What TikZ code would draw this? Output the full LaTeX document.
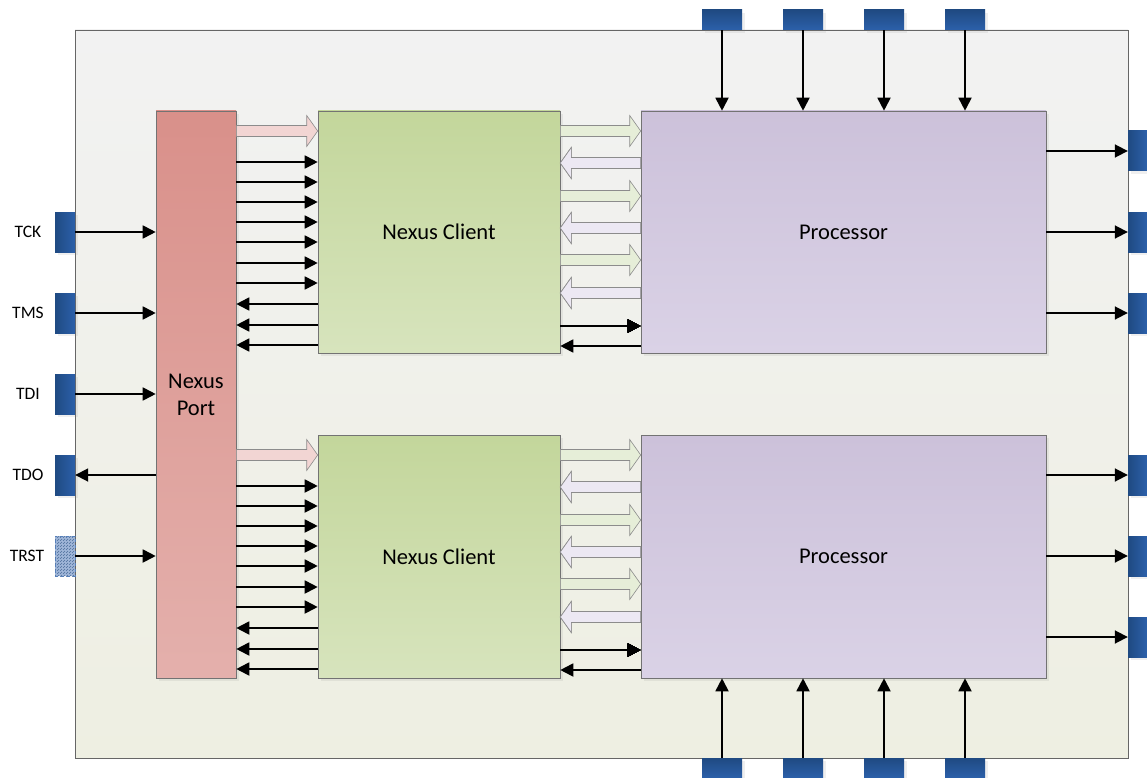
\documentclass[tikz,border=0pt]{standalone}
\usepackage{fontspec}
\setmainfont{Carlito}
\usetikzlibrary{arrows.meta,patterns,shadows,calc}
\definecolor{chipTop}{HTML}{F2F2F2}
\definecolor{chipBot}{HTML}{EEEFE2}
\definecolor{portTop}{HTML}{D9908A}
\definecolor{portBot}{HTML}{E4B0AC}
\definecolor{clientTop}{HTML}{C3D69B}
\definecolor{clientBot}{HTML}{D7E4BD}
\definecolor{procTop}{HTML}{CCC1DA}
\definecolor{procBot}{HTML}{DAD2E6}
\definecolor{pinDark}{HTML}{1F4A82}
\definecolor{pinLight}{HTML}{2C60AA}
\definecolor{fatPink}{HTML}{F2D5D3}
\definecolor{fatGreen}{HTML}{E6EED8}
\definecolor{fatPurple}{HTML}{ECE8F3}
\tikzset{
  chip/.style={draw=black!60,line width=.6pt,top color=chipTop,bottom color=chipBot,inner sep=0pt},
  block/.style={draw=black!55,line width=.6pt,inner sep=0pt,align=center,
    font=\fontsize{22.5}{27}\selectfont,
    drop shadow={shadow xshift=3pt,shadow yshift=-3pt,opacity=.12}},
  pinh/.style={inner sep=0pt,minimum width=20,minimum height=40,left color=pinDark,right color=pinLight,
    drop shadow={shadow xshift=3pt,shadow yshift=-3pt,opacity=.12}},
  pinv/.style={inner sep=0pt,minimum width=40,minimum height=20,top color=pinDark,bottom color=pinLight,
    drop shadow={shadow xshift=3pt,shadow yshift=-3pt,opacity=.12}},
  sig/.style={line width=1.8pt,-{Triangle[length=13pt,width=13pt]}},
  fat/.style={draw=black!45,line width=.6pt},
  lbl/.style={font=\fontsize{17.5}{20}\selectfont,inner sep=1pt}
}
\newcommand\fatarrow[3]{%
  \path[fat,#3] let \p1=(#1),\p2=(#2),\n1={sign(\x2-\x1)} in
    (\x1,\y1+5.5pt) -- ({\x2-\n1*11pt},\y1+5.5pt) -- ({\x2-\n1*11pt},\y1+15.5pt) -- (\x2,\y1)
    -- ({\x2-\n1*11pt},\y1-15.5pt) -- ({\x2-\n1*11pt},\y1-5.5pt) -- (\x1,\y1-5.5pt) -- cycle;}
\begin{document}
\begin{tikzpicture}[x=1pt,y=-1pt]
\path[use as bounding box,fill=white] (0,0) rectangle (1147,778);
\node[chip,minimum width=1053,minimum height=728] (chip) at (601.5,394) {};
\node[block,top color=portTop,bottom color=portBot,minimum width=80,minimum height=567] (port) at (196,394.5) {Nexus\\Port};
\node[block,top color=clientTop,bottom color=clientBot,minimum width=242,minimum height=242] (client1) at (439,232) {Nexus Client};
\node[block,top color=procTop,bottom color=procBot,minimum width=405,minimum height=242] (proc1) at (843.5,232) {Processor};
\node[block,top color=clientTop,bottom color=clientBot,minimum width=242,minimum height=243] (client2) at (439,556.5) {Nexus Client};
\node[block,top color=procTop,bottom color=procBot,minimum width=405,minimum height=243] (proc2) at (843.5,556.5) {Processor};

\foreach \pn/\t/\yy in {tck/TCK/232,tms/TMS/313,tdi/TDI/394,tdo/TDO/475}{
  \node[pinh] (\pn) at (65,\yy) {};
  \node[lbl] (\pn-lbl) at (28,\yy) {\t};
}
\node[inner sep=0pt,minimum width=20,minimum height=40,preaction={fill=pinLight!45},
  pattern=north east lines,pattern color=pinDark!80,draw=pinLight!80,dashed] (trst) at (65,556) {};
\node[lbl] (trst-lbl) at (27,556) {TRST};
\foreach \pn in {tck,tms,tdi,trst}
  \draw[sig] (\pn.east) -- (port.west |- \pn.east);
\draw[sig] (port.west |- tdo.east) -- (tdo.east);

\foreach \i/\xx in {1/722,2/803,3/884,4/965}{
  \node[pinv] (top\i) at (\xx,20) {};
  \draw[sig] (top\i.south) -- (proc1.north -| top\i.south);
  \node[pinv] (bot\i) at (\xx,768) {};
  \draw[sig] (bot\i.north) -- (proc2.south -| bot\i.north);
}
\foreach \i/\yy/\pr in {1/151/proc1,2/232/proc1,3/313/proc1,4/475/proc2,5/556/proc2,6/637/proc2}{
  \node[pinh,minimum width=19] (out\i) at (1137.5,\yy) {};
  \draw[sig] (\pr.east |- out\i.west) -- (out\i.west);
}

\foreach \u/\dd in {1/0,2/324}{
  \fatarrow{port.east |- 0,131+\dd}{client\u.west |- 0,131+\dd}{fill=fatPink}
  \foreach \yy in {162,182,202,222,242,263,283}
    \draw[sig] (port.east |- 0,\yy+\dd) -- (client\u.west |- 0,\yy+\dd);
  \foreach \yy in {304,325,345}
    \draw[sig] (client\u.west |- 0,\yy+\dd) -- (port.east |- 0,\yy+\dd);
  \foreach \yy in {131,196,260}
    \fatarrow{client\u.east |- 0,\yy+\dd}{proc\u.west |- 0,\yy+\dd}{fill=fatGreen}
  \foreach \yy in {163,228,293}
    \fatarrow{proc\u.west |- 0,\yy+\dd}{client\u.east |- 0,\yy+\dd}{fill=fatPurple}
  \draw[sig] (client\u.east |- 0,326+\dd) -- (proc\u.west |- 0,326+\dd);
  \draw[sig] (proc\u.west |- 0,346+\dd) -- (client\u.east |- 0,346+\dd);
}
\end{tikzpicture}
\end{document}
